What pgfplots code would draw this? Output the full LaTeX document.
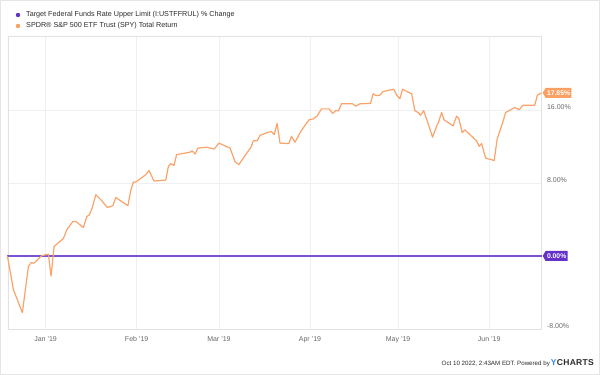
\documentclass[border=0pt]{standalone}
\usepackage{pgfplots}
\pgfplotsset{compat=1.18}
\usepackage{fontspec}
\setmainfont{Liberation Sans}
\usetikzlibrary{shapes.symbols}
\definecolor{spy}{HTML}{FAA36A}
\definecolor{fed}{HTML}{7A52D4}
\definecolor{fedtag}{HTML}{6331C8}
\definecolor{spytag}{HTML}{F9A062}
\definecolor{gridc}{HTML}{F0F0F0}
\definecolor{axc}{HTML}{E2E2E2}
\definecolor{tickc}{HTML}{6A6A6A}
\definecolor{ycblue}{HTML}{2E8BE6}
\definecolor{txt}{HTML}{2B2B2B}
\begin{document}
\begin{tikzpicture}[x=1pt,y=1pt]
\useasboundingbox (0,0) rectangle (600,375);
\fill[white] (0,0) rectangle (600,375);
\draw[gray!20] (0.5,0.5) rectangle (599.5,374.5);
% legend
\fill[fedtag] (18,360) circle (2.2);
\fill[spytag] (18,349) circle (2.2);
\node[anchor=west, inner sep=0pt, text=txt, font=\fontsize{7.2}{8}\selectfont] at (26,360) {Target Federal Funds Rate Upper Limit (I:USTFFRUL) \% Change};
\node[anchor=west, inner sep=0pt, text=txt, font=\fontsize{7.2}{8}\selectfont] at (26,349) {SPDR® S\&P 500 ETF Trust (SPY) Total Return};
% footer
\node[anchor=east, inner sep=0pt, text=txt] at (594,12) {{\fontsize{6.2}{7}\selectfont Oct 10 2022, 2:43AM EDT. Powered by}\hspace{1pt}{\fontsize{8.5}{9}\selectfont\bfseries\textcolor{ycblue}{Y}\hspace{0.3pt}C\hspace{0.3pt}H\hspace{0.3pt}A\hspace{0.3pt}R\hspace{0.3pt}T\hspace{0.3pt}S}};
\begin{axis}[
  at={(7.7pt,46pt)}, anchor=south west, scale only axis,
  width=533.8pt, height=292.3pt,
  xmin=-12.9, xmax=168.8, ymin=-8, ymax=24,
  axis line style={draw=axc},
  major tick length=0pt,
  xtick={0,31,59,90,120,151},
  xticklabels={Jan '19,Feb '19,Mar '19,Apr '19,May '19,Jun '19},
  ytick={-8,0,8,16},
  yticklabels={-8.00\%,,8.00\%,16.00\%},
  yticklabel pos=right,
  grid=major, major grid style={draw=gridc},
  tick label style={font=\fontsize{7}{8}\selectfont, text=tickc},
  yticklabel style={anchor=west, xshift=2pt, yshift=3pt},
  xticklabel style={yshift=-4pt},
  clip=false,
]
\addplot[fed, line width=1.6pt] coordinates {(-13,0) (168.8,0)};
\addplot[spy, line width=1.2pt, line join=round] coordinates {
(-13.0,0.00) (-10.95,-3.7) (-7.9,-6.2) (-5.85,-1.17) (-4.9,-0.73) (-4.0,-0.80)
(-1.3,0.03) (0.95,0.19) (1.87,-2.2) (2.9,1.05) (6.05,1.9) (7.2,2.85)
(9.25,3.76) (10.4,3.76) (12.85,3.1) (14.0,4.3) (14.9,4.5) (15.8,5.2)
(17.1,6.7) (19.1,6.06) (21.0,5.3) (22.9,5.5) (23.9,6.4) (25.9,5.95)
(28.0,5.5) (29.0,7.2) (29.9,8.1) (30.8,8.1) (34.1,8.9) (35.2,9.35)
(36.9,8.2) (40.9,8.3) (41.8,9.8) (42.6,10.1) (43.7,9.9) (44.6,11.1)
(45.7,11.15) (49.1,11.35) (49.9,11.5) (50.9,11.15) (51.8,11.8) (54.8,11.9)
(57.4,11.7) (59.0,12.35) (62.8,11.8) (64.5,10.3) (65.8,10.0) (67.9,11.0)
(69.9,11.9) (70.7,12.6) (72.0,12.6) (73.0,13.2) (75.8,13.55) (76.9,13.6)
(77.8,13.3) (78.8,14.5) (79.8,12.35) (82.8,12.3) (83.7,13.1) (84.9,12.45)
(86.0,13.1) (86.8,13.6) (88.3,14.3) (89.7,14.9) (91.1,15.0) (92.4,15.3)
(93.9,16.1) (96.5,16.1) (97.7,15.6) (98.7,15.9) (99.7,15.9) (100.7,16.65)
(104.5,16.65) (105.6,16.4) (107.0,16.65) (110.6,16.7) (111.5,17.75) (112.4,17.55)
(113.8,17.6) (114.9,18.0) (118.5,18.25) (119.5,17.6) (120.6,17.2) (121.5,18.25)
(124.6,17.75) (125.7,15.9) (126.8,15.7) (127.6,15.4) (128.7,15.9) (130.2,14.5)
(131.7,13.0) (133.1,14.2) (133.8,14.7) (134.8,15.7) (135.6,14.9) (138.7,14.25)
(139.9,15.3) (140.7,15.0) (141.8,13.5) (142.7,13.8) (146.7,12.6) (147.6,12.0)
(148.4,12.3) (149.8,10.7) (152.7,10.45) (153.7,12.8) (155.5,14.5) (156.6,15.7)
(159.7,16.25) (161.2,16.0) (162.5,16.5) (166.5,16.5) (167.4,17.6) (168.8,17.85)
};
\node[signal, signal to=west, signal pointer angle=120, fill=spytag, text=white, font=\fontsize{6.8}{7}\selectfont\bfseries, inner sep=1.4pt, minimum height=10pt, anchor=west] at (axis cs:168.8,17.85) [xshift=1pt] {17.85\%};
\node[signal, signal to=west, signal pointer angle=120, fill=fedtag, text=white, font=\fontsize{6.8}{7}\selectfont\bfseries, inner sep=1.4pt, minimum height=10pt, anchor=west] at (axis cs:168.8,0) [xshift=1pt] {0.00\%};
\end{axis}
\end{tikzpicture}
\end{document}
